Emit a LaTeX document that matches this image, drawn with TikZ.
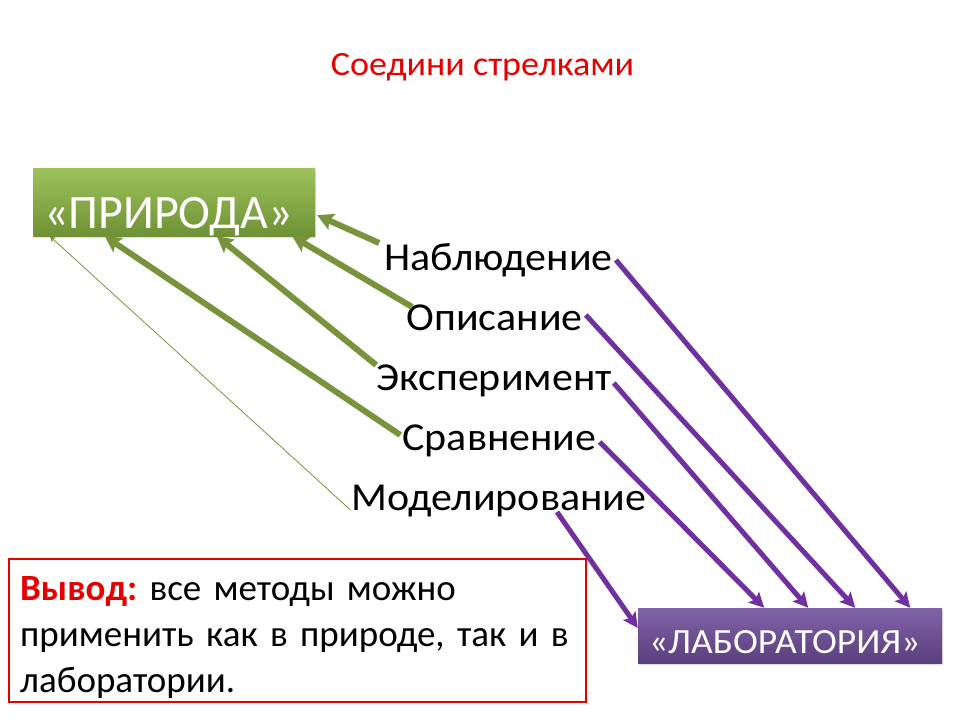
\documentclass[tikz,border=0pt]{standalone}
\usepackage{fontspec}
\setmainfont{Carlito}[FakeStretch=1.06]
\newfontfamily\natfont{Carlito}
\usetikzlibrary{arrows.meta,shadows}
\definecolor{natgreen}{HTML}{77933C}
\definecolor{nattop}{HTML}{9DC35A}
\definecolor{natbot}{HTML}{6F9136}
\definecolor{labviolet}{HTML}{7030A0}
\definecolor{labtop}{HTML}{8064A8}
\definecolor{labbot}{HTML}{5A3E7E}
\definecolor{slidered}{HTML}{E60000}
\frenchspacing

\begin{document}
\begin{tikzpicture}[x=1pt,y=-1pt,
  every node/.style={inner sep=0pt},
  word/.style={font=\fontsize{39.6}{48}\selectfont,anchor=base},
  natbox/.style={minimum width=282pt,minimum height=68pt,text width=260pt,inner xsep=11pt,align=left,text height=52pt,text depth=0pt,top color=nattop,bottom color=natbot,text=white,font=\natfont\fontsize{48}{56}\selectfont,drop shadow={opacity=0.25,shadow xshift=1pt,shadow yshift=-2pt}},
  labbox/.style={minimum width=304pt,minimum height=55pt,text width=282pt,inner xsep=11pt,align=left,text height=35pt,text depth=0pt,top color=labtop,bottom color=labbot,text=white,font=\fontsize{35.4}{42}\selectfont,drop shadow={opacity=0.25,shadow xshift=1pt,shadow yshift=-2pt}},
  garrow/.style={natgreen,line width=6pt,-{Stealth[length=16pt,width=17pt,inset=3pt]}},
  varrow/.style={labviolet,line width=5pt,-{Stealth[length=15pt,width=15pt,inset=3pt]}},
  thinarrow/.style={natgreen,line width=0.8pt,-{Stealth[length=6pt,width=6pt]}}]
\useasboundingbox (0,0) rectangle (960,720);
\node[text=slidered,font=\fontsize{34}{40}\selectfont,anchor=base] (title) at (482.5,75) {Соедини стрелками};
\node[natbox] (nat) at (174,202) {«ПРИРОДА»};
\node[labbox] (lab) at (790,635.5) {«ЛАБОРАТОРИЯ»};
\node[word] (nab) at (498.5,270) {Наблюдение};
\node[word] (opi) at (494.5,330) {Описание};
\node[word] (eks) at (494,390) {Эксперимент};
\node[word] (srv) at (499.5,450) {Сравнение};
\node[word] (mod) at (499,510) {Моделирование};
\node[draw=slidered,line width=1.6pt,minimum width=577pt,minimum height=143pt] (vyv) at (297.5,630.5) {};
\node[font=\natfont\fontsize{37}{46}\selectfont,text width=560pt,anchor=base west] (vyvtxt) at (20,600) {\raggedright\frenchspacing\textcolor{slidered}{\bfseries Вывод:} все методы можно\\применить как в природе, так и в\\лаборатории.};
\draw[garrow] ([shift={(-5pt,27pt)}]nab.base west) -- ([shift={(2pt,21pt)}]nat.south east);
\draw[garrow] ([shift={(6pt,23pt)}]opi.base west) -- ([xshift=-23pt]nat.south east);
\draw[garrow] ([shift={(0pt,25pt)}]eks.base west) -- ([xshift=184pt]nat.south west);
\draw[garrow] ([shift={(-2pt,15pt)}]srv.base west) -- ([xshift=72pt]nat.south west);
\draw[thinarrow] ([xshift=-1pt]mod.base west) -- ([xshift=17pt]nat.south west);
\draw[varrow] ([shift={(3pt,10pt)}]nab.base east) -- ([xshift=-32pt]lab.north east);
\draw[varrow] ([shift={(3pt,15pt)}]opi.base east) -- ([xshift=-87pt]lab.north east);
\draw[varrow] ([shift={(2pt,7pt)}]eks.base east) -- ([xshift=-134pt]lab.north east);
\draw[varrow] ([shift={(3pt,8pt)}]srv.base east) -- ([xshift=-178pt]lab.north east);
\draw[varrow] ([shift={(58pt,-2pt)}]mod.base) -- ([yshift=7.5pt]lab.west);
\end{tikzpicture}
\end{document}
